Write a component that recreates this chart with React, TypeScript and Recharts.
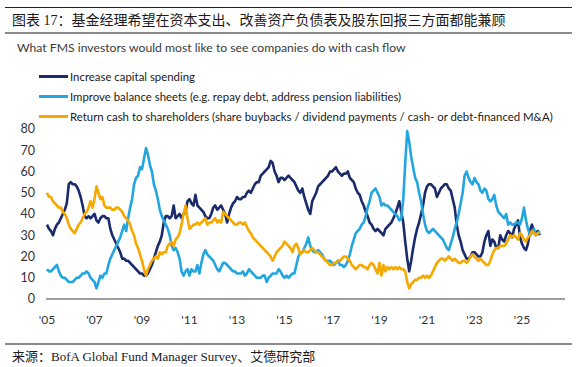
import React from 'react';
import { LineChart, Line, XAxis, YAxis, Legend } from 'recharts';

// monthly survey readings, Jan 2005 .. Oct 2025 (% of FMS investors)
const capex = [
  35, 33, 32, 30, 33, 35, 36, 38, 40, 42, 45, 54,
  55, 54, 54, 53, 51, 48, 44, 39, 38, 39, 38, 39,
  40, 37, 36, 38, 39, 39, 38, 38, 33, 30, 28, 26,
  24, 22, 19, 19, 18, 18, 17, 16, 15, 14, 13, 12,
  12, 11, 11, 12, 14, 16, 19, 22, 25, 27, 30, 36,
  39, 39, 38, 39, 44, 38, 39, 40, 38, 40, 41, 46,
  47, 45, 44, 49, 44, 43, 42, 41, 39, 38, 38, 40,
  43, 44, 42, 43, 44, 42, 40, 36, 40, 43, 45, 46,
  48, 47, 47, 48, 48, 50, 51, 50, 52, 54, 55, 55,
  58, 59, 60, 61, 62, 65, 64, 60, 58, 55, 57, 57,
  56, 57, 58, 57, 56, 55, 53, 51, 50, 52, 48, 45,
  42, 40, 46, 48, 50, 53, 54, 55, 56, 57, 58, 60,
  60, 61, 62, 60, 59, 58, 59, 59, 60, 57, 56, 55,
  52, 50, 49, 46, 44, 41, 39, 36, 35, 33, 32, 33,
  32, 31, 30, 33, 34, 35, 36, 38, 40, 43, 46, 41,
  36, 27, 19, 13, 18, 24, 29, 33, 36, 40, 44, 50,
  53, 54, 54, 53, 52, 48, 50, 52, 53, 54, 54, 52,
  51, 47, 43, 35, 30, 27, 23, 21, 19, 19, 20, 22,
  22, 21, 20, 20, 22, 27, 30, 32, 25, 28, 27, 24,
  24, 30, 28, 27, 30, 32, 31, 29, 33, 35, 37, 29,
  26, 24, 23, 26, 32, 35, 32, 31, 32, 30,
];

const balanceSheets = [
  14, 13, 13, 14, 15, 16, 13, 11, 10, 10, 9, 8,
  8, 8, 9, 10, 10, 11, 12, 12, 13, 12, 10, 9,
  8, 5, 8, 11, 10, 12, 12, 16, 19, 21, 23, 25,
  27, 29, 32, 35, 32, 38, 43, 47, 54, 57, 58, 62,
  61, 66, 71, 68, 63, 60, 54, 51, 47, 42, 39, 37,
  35, 33, 30, 25, 23, 24, 22, 19, 13, 11, 13, 14,
  11, 14, 13, 13, 16, 12, 17, 21, 23, 21, 20, 19,
  18, 16, 14, 13, 15, 17, 17, 16, 15, 14, 13, 13,
  12, 12, 12, 13, 11, 12, 14, 13, 12, 11, 10, 10,
  10, 11, 11, 8, 10, 11, 12, 12, 12, 14, 13, 11,
  10, 11, 10, 11, 12, 12, 16, 20, 22, 22, 24, 26,
  29, 25, 23, 22, 22, 23, 22, 21, 19, 18, 18, 18,
  17, 16, 17, 18, 16, 16, 15, 16, 18, 21, 25, 28,
  31, 32, 33, 35, 36, 39, 43, 46, 50, 51, 52, 50,
  48, 44, 45, 44, 44, 43, 42, 41, 40, 39, 37, 38,
  47, 64, 79, 74, 67, 62, 57, 55, 50, 46, 40, 35,
  32, 31, 32, 33, 32, 31, 30, 29, 28, 26, 24, 23,
  26, 29, 33, 36, 40, 45, 50, 58, 60, 57, 55, 54,
  57, 55, 54, 51, 50, 52, 51, 47, 46, 47, 49, 44,
  41, 40, 39, 38, 40, 35, 36, 35, 35, 36, 36, 35,
  38, 43, 37, 33, 30, 31, 33, 30, 31, 32,
];

const returnCash = [
  50, 48, 48, 46, 45, 44, 43, 43, 41, 40, 38, 35,
  33, 32, 31, 33, 35, 36, 38, 40, 41, 43, 46, 43,
  47, 53, 50, 47, 48, 44, 43, 43, 43, 42, 42, 43,
  43, 42, 41, 39, 38, 37, 35, 32, 30, 26, 24, 21,
  18, 14, 11, 14, 16, 18, 19, 20, 19, 22, 21, 22,
  22, 25, 26, 27, 25, 28, 29, 31, 35, 40, 44, 38,
  33, 34, 35, 35, 36, 35, 36, 37, 38, 35, 36, 36,
  37, 38, 36, 37, 36, 41, 40, 39, 38, 37, 36, 35,
  35, 36, 36, 35, 36, 34, 32, 31, 29, 28, 27, 26,
  25, 24, 23, 22, 21, 20, 18, 20, 22, 23, 24, 25,
  27, 26, 25, 24, 22, 25, 26, 24, 21, 22, 23, 22,
  22, 23, 24, 23, 22, 22, 21, 20, 19, 18, 17, 16,
  16, 17, 17, 18, 18, 19, 20, 20, 19, 18, 16, 15,
  14, 15, 16, 16, 15, 15, 14, 16, 17, 16, 14, 12,
  17, 11, 16, 13, 15, 14, 15, 14, 15, 14, 15, 14,
  14, 13, 8, 5, 7, 8, 9, 9, 10, 10, 11, 10,
  11, 10, 11, 13, 15, 17, 18, 19, 19, 18, 19, 20,
  19, 18, 19, 18, 17, 17, 18, 18, 17, 18, 20, 21,
  20, 19, 18, 19, 18, 17, 16, 16, 18, 21, 23, 24,
  24, 25, 25, 25, 26, 28, 30, 29, 30, 29, 28, 31,
  30, 28, 27, 29, 30, 32, 31, 30, 31, 31,
];

const seriesKeys = ['capex', 'balance', 'cash'];
const seriesNames = [
  'Increase capital spending',
  'Improve balance sheets (e.g. repay debt, address pension liabilities)',
  'Return cash to shareholders (share buybacks / dividend payments / cash- or debt-financed M&A)',
];
const seriesColors = ['#1b2a6b', '#23a6df', '#f5a800'];

const yearTicks = [2005, 2007, 2009, 2011, 2013, 2015, 2017, 2019, 2021, 2023, 2025];
const valueTicks = [0, 10, 20, 30, 40, 50, 60, 70, 80];

const data = capex.map((v, i) => ({
  t: 2005 + i / 12,
  capex: v,
  balance: balanceSheets[i],
  cash: returnCash[i],
}));

const latin = 'Lato, "Liberation Sans", sans-serif';
const serifCjk = '"Liberation Serif", "Noto Sans CJK SC", serif';

function LegendBox() {
  return (
    <div style={{ fontFamily: latin, fontSize: 11.4, color: '#1a1a1a' }}>
      {seriesNames.map((name, i) => (
        <div key={name} style={{ display: 'flex', alignItems: 'center', height: 19.7, whiteSpace: 'nowrap' }}>
          <span style={{ display: 'inline-block', width: 29, height: 3, background: seriesColors[i], marginRight: 2 }} />
          <span>{name}</span>
        </div>
      ))}
    </div>
  );
}

export default function App() {
  return (
    <div style={{ position: 'absolute', left: 0, top: 0, width: 577, height: 367, background: '#fff', overflow: 'hidden' }}>
      <div style={{ position: 'absolute', left: 5, top: 7, width: 567, height: 1, background: '#222' }} />
      <div style={{ position: 'absolute', left: 12, top: 11, fontFamily: serifCjk, fontSize: 14, color: '#1a1a1a', whiteSpace: 'nowrap', lineHeight: '20px' }}>
        图表 17：基金经理希望在资本支出、改善资产负债表及股东回报三方面都能兼顾
      </div>
      <div style={{ position: 'absolute', left: 5, top: 32, width: 567, height: 2, background: '#8a8a8a' }} />
      <div style={{ position: 'absolute', left: 17, top: 39, fontFamily: latin, fontSize: 12.2, color: '#3a3a3a', whiteSpace: 'nowrap', lineHeight: '18px' }}>
        What FMS investors would most like to see companies do with cash flow
      </div>

      <div style={{ position: 'absolute', left: 0, top: 0 }}>
        <LineChart width={577} height={367} data={data} margin={{ top: 129, right: 12, bottom: 38, left: 0 }}>
          <XAxis
            dataKey="t"
            type="number"
            domain={[2004.958, 2026.81]}
            ticks={yearTicks}
            tickFormatter={(v) => "'" + String(v).slice(2)}
            tickLine={false}
            tickSize={0}
            tickMargin={16}
            height={30}
            axisLine={{ stroke: '#7f7f7f', strokeWidth: 1.5 }}
            tick={{ fill: '#333', fontSize: 12, fontFamily: latin }}
            interval={0}
          />
          <YAxis
            type="number"
            domain={[0, 80]}
            ticks={valueTicks}
            width={46}
            tickLine={false}
            axisLine={false}
            tickSize={0}
            tickMargin={11}
            tick={{ fill: '#333', fontSize: 12.5, fontFamily: latin }}
            interval={0}
          />
          <Legend
            layout="vertical"
            verticalAlign="middle"
            align="center"
            content={() => <LegendBox />}
            wrapperStyle={{ top: 66.8, left: 39, width: 540 }}
          />
          {seriesKeys.map((k, i) => (
            <Line
              key={k}
              dataKey={k}
              name={seriesNames[i]}
              stroke={seriesColors[i]}
              strokeWidth={2.6}
              dot={false}
              strokeLinejoin="round"
              isAnimationActive={false}
            />
          ))}
        </LineChart>
      </div>

      <div style={{ position: 'absolute', left: 5, top: 343, width: 567, height: 1.5, background: '#8a8a8a' }} />
      <div style={{ position: 'absolute', left: 12, top: 348, fontFamily: serifCjk, fontSize: 13, color: '#1a1a1a', whiteSpace: 'nowrap', lineHeight: '18px' }}>
        来源：BofA Global Fund Manager Survey、艾德研究部
      </div>
    </div>
  );
}
